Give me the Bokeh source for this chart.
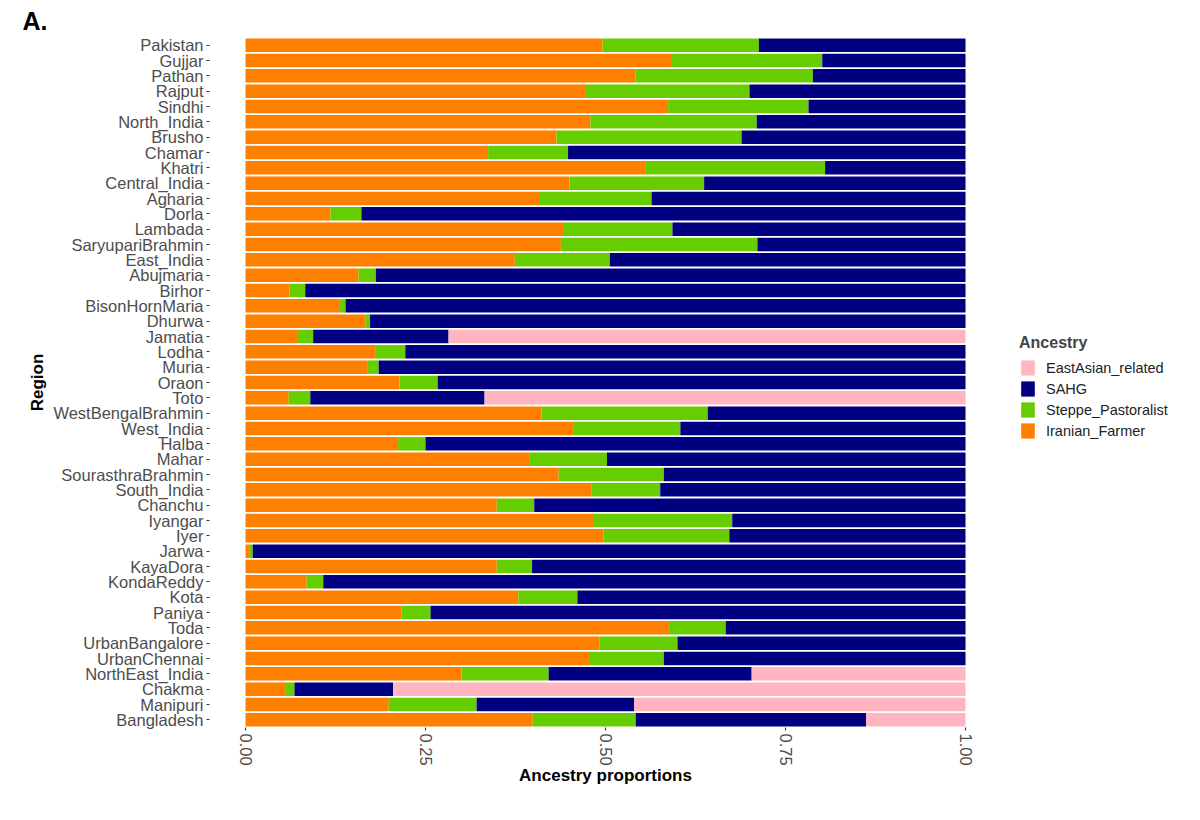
from bokeh.plotting import figure
from bokeh.models import (ColumnDataSource, FactorRange, Range1d, Legend, LegendItem,
                          FixedTicker, NumeralTickFormatter, Title)
from bokeh.embed import file_html
from bokeh.resources import INLINE

# Populations, top to bottom as in the chart
regions = ["Pakistan", "Gujjar", "Pathan", "Rajput", "Sindhi", "North_India", "Brusho",
           "Chamar", "Khatri", "Central_India", "Agharia", "Dorla", "Lambada",
           "SaryupariBrahmin", "East_India", "Abujmaria", "Birhor", "BisonHornMaria",
           "Dhurwa", "Jamatia", "Lodha", "Muria", "Oraon", "Toto", "WestBengalBrahmin",
           "West_India", "Halba", "Mahar", "SourasthraBrahmin", "South_India", "Chanchu",
           "Iyangar", "Iyer", "Jarwa", "KayaDora", "KondaReddy", "Kota", "Paniya", "Toda",
           "UrbanBangalore", "UrbanChennai", "NorthEast_India", "Chakma", "Manipuri",
           "Bangladesh"]

# Ancestry proportions
iranian_farmer = [0.496, 0.591, 0.542, 0.473, 0.587, 0.479, 0.432, 0.337, 0.555, 0.450,
                  0.409, 0.118, 0.441, 0.438, 0.374, 0.157, 0.061, 0.130, 0.167, 0.073,
                  0.180, 0.169, 0.214, 0.060, 0.411, 0.455, 0.212, 0.394, 0.435, 0.481,
                  0.349, 0.484, 0.497, 0.005, 0.349, 0.085, 0.379, 0.217, 0.588, 0.492,
                  0.477, 0.300, 0.055, 0.199, 0.399]
steppe_pastoralist = [0.217, 0.210, 0.246, 0.227, 0.195, 0.231, 0.257, 0.111, 0.250, 0.187,
                      0.155, 0.043, 0.152, 0.273, 0.132, 0.024, 0.022, 0.009, 0.006, 0.021,
                      0.042, 0.016, 0.053, 0.030, 0.231, 0.149, 0.038, 0.108, 0.146, 0.095,
                      0.052, 0.192, 0.175, 0.005, 0.049, 0.023, 0.082, 0.040, 0.079, 0.108,
                      0.104, 0.121, 0.013, 0.122, 0.143]
sahg = [0.287, 0.199, 0.212, 0.300, 0.218, 0.290, 0.311, 0.552, 0.195, 0.363,
        0.436, 0.839, 0.407, 0.289, 0.494, 0.819, 0.917, 0.861, 0.827, 0.188,
        0.778, 0.815, 0.733, 0.242, 0.358, 0.396, 0.750, 0.498, 0.419, 0.424,
        0.599, 0.324, 0.328, 0.990, 0.602, 0.892, 0.539, 0.743, 0.333, 0.400,
        0.419, 0.282, 0.137, 0.219, 0.320]
east_asian = [0, 0, 0, 0, 0, 0, 0, 0, 0, 0,
              0, 0, 0, 0, 0, 0, 0, 0, 0, 0.718,
              0, 0, 0, 0.668, 0, 0, 0, 0, 0, 0,
              0, 0, 0, 0, 0, 0, 0, 0, 0, 0,
              0, 0.297, 0.795, 0.460, 0.138]

components = ["Iranian_Farmer", "Steppe_Pastoralist", "SAHG", "EastAsian_related"]
colors = ["#FF7F00", "#66CD00", "#000080", "#FFB6C1"]

source = ColumnDataSource(dict(region=regions, Iranian_Farmer=iranian_farmer,
                               Steppe_Pastoralist=steppe_pastoralist, SAHG=sahg,
                               EastAsian_related=east_asian))

font = "Liberation Sans"

# x range padded 5% each side, like ggplot's default expansion
p = figure(frame_width=792, frame_height=690, output_backend="svg", toolbar_location=None,
           y_range=FactorRange(factors=regions[::-1]), x_range=Range1d(-0.05, 1.05),
           min_border_left=209, min_border_right=183, min_border_top=37,
           min_border_bottom=76)
p.outline_line_color = None
p.grid.visible = False

renderers = p.hbar_stack(components, y="region", height=0.88, color=colors,
                         source=source, line_color=None)

# axes
p.xaxis.ticker = FixedTicker(ticks=[0, 0.25, 0.5, 0.75, 1.0])
p.xaxis.formatter = NumeralTickFormatter(format="0.00")
p.xaxis.major_label_orientation = "vertical"
p.xaxis.axis_label = "Ancestry proportions"
p.yaxis.axis_label = "Region"
for ax in (p.xaxis, p.yaxis):
    ax.axis_line_color = None
    ax.major_tick_line_color = "#333333"
    ax.major_tick_out = 3
    ax.major_tick_in = 0
    ax.minor_tick_line_color = None
    ax.major_label_text_font = font
    ax.major_label_text_font_size = "16.5px"
    ax.major_label_text_color = "#4D4D4D"
    ax.major_label_standoff = 3
    ax.axis_label_text_font = font
    ax.axis_label_text_font_size = "17px"
    ax.axis_label_text_font_style = "bold"
    ax.axis_label_text_color = "black"
p.xaxis.axis_label_standoff = -3
p.yaxis.axis_label_standoff = 3

# legend, reversed order like ggplot
items = [LegendItem(label=c, renderers=[r]) for c, r in zip(components, renderers)][::-1]
legend = Legend(items=items, location=(18, 287), title="Ancestry",
                title_text_font=font, title_text_font_size="16px",
                title_text_font_style="bold", title_standoff=6,
                label_text_font=font, label_text_font_size="14.5px",
                label_text_color="#222222", glyph_width=17, glyph_height=19,
                label_height=19, label_standoff=10, spacing=2, padding=0, margin=0,
                border_line_color=None, background_fill_alpha=0)
p.add_layout(legend, "right")

p.title = Title(text="A.", align="left", offset=-187, text_font=font,
                text_font_size="25px", text_font_style="bold", text_color="black",
                standoff=6)

open("out.html", "w").write(file_html(p, INLINE))
